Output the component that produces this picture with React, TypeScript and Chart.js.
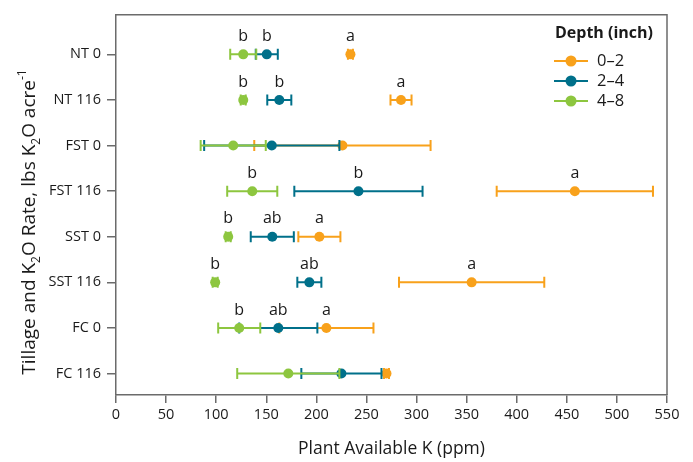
import React, { useEffect, useRef } from "react";
import { Chart, registerables } from "chart.js";

Chart.register(...registerables);

const categories = ["NT 0", "NT 116", "FST 0", "FST 116", "SST 0", "SST 116", "FC 0", "FC 116"];
const seriesNames = ["0–2", "2–4", "4–8"];
const seriesColors = ["#F8A11B", "#00708A", "#8DC63F"];

const mean02 = [234, 284.5, 226, 458, 203, 355, 210, 270];
const err02 = [2.5, 10.5, 88, 78, 21, 72.5, 47, 2.5];
const letters02 = ["a", "a", "", "a", "a", "a", "a", ""];

const mean24 = [150.5, 163, 155.5, 242, 156, 193, 162, 225];
const err24 = [11, 12, 67.5, 64, 21.5, 12, 39, 40];
const letters24 = ["b", "b", "", "b", "ab", "ab", "ab", ""];

const mean48 = [127, 127, 117, 136, 112, 99, 123, 172];
const err48 = [13, 2.5, 32.5, 25, 2.5, 2.5, 21, 51];
const letters48 = ["b", "b", "", "b", "b", "b", "b", ""];

const xMin = 0;
const xMax = 550;
const xStep = 50;

const legendTitle = "Depth (inch)";
const xTitle = "Plant Available K (ppm)";
// y title segments: [text, kind]
const yTitleParts: [string, string][] = [
  ["Tillage and K", "n"],
  ["2", "sub"],
  ["O Rate, lbs K", "n"],
  ["2", "sub"],
  ["O acre", "n"],
  ["-1", "sup"],
];

const FONT = "'Open Sans', Lato, sans-serif";
const AXIS_COLOR = "#6b6b6b";
const TEXT_COLOR = "#1a1a1a";

const seriesMeans = [mean02, mean24, mean48];
const seriesErrs = [err02, err24, err48];
const seriesLetters = [letters02, letters24, letters48];

const errorBarPlugin = {
  id: "errorBars",
  beforeDatasetDraw(chart: any, args: any) {
    const ds = chart.data.datasets[args.index];
    const xs = chart.scales.x;
    const ys = chart.scales.y;
    const ctx = chart.ctx;
    ctx.save();
    ctx.strokeStyle = ds.borderColor;
    ctx.lineWidth = 2;
    ds.errors.forEach((e: number, i: number) => {
      const p = ds.data[i];
      const x1 = xs.getPixelForValue(p.x - e);
      const x2 = xs.getPixelForValue(p.x + e);
      const y = ys.getPixelForValue(p.y);
      ctx.beginPath();
      ctx.moveTo(x1, y);
      ctx.lineTo(x2, y);
      ctx.moveTo(x1, y - 5.5);
      ctx.lineTo(x1, y + 5.5);
      ctx.moveTo(x2, y - 5.5);
      ctx.lineTo(x2, y + 5.5);
      ctx.stroke();
    });
    ctx.restore();
  },
  afterDatasetsDraw(chart: any) {
    const ctx = chart.ctx;
    const xs = chart.scales.x;
    const ys = chart.scales.y;
    ctx.save();
    ctx.fillStyle = TEXT_COLOR;
    ctx.font = `16px ${FONT}`;
    ctx.textAlign = "center";
    ctx.textBaseline = "middle";
    chart.data.datasets.forEach((ds: any) => {
      ds.letters.forEach((l: string, i: number) => {
        if (!l) return;
        const p = ds.data[i];
        ctx.fillText(l, xs.getPixelForValue(p.x), ys.getPixelForValue(p.y) - 18);
      });
    });
    ctx.restore();
  },
  afterDraw(chart: any) {
    const ctx = chart.ctx;
    const a = chart.chartArea;
    ctx.save();
    // top and right borders
    ctx.strokeStyle = AXIS_COLOR;
    ctx.lineWidth = 1.5;
    ctx.beginPath();
    ctx.moveTo(a.left, a.top);
    ctx.lineTo(a.right, a.top);
    ctx.lineTo(a.right, a.bottom);
    ctx.stroke();

    // legend
    ctx.fillStyle = TEXT_COLOR;
    ctx.textBaseline = "middle";
    ctx.textAlign = "left";
    ctx.font = `bold 16px ${FONT}`;
    ctx.fillText(legendTitle, 555, 33);
    ctx.font = `16.5px ${FONT}`;
    seriesNames.forEach((name, i) => {
      const y = 61 + i * 20;
      ctx.strokeStyle = seriesColors[i];
      ctx.lineWidth = 2;
      ctx.beginPath();
      ctx.moveTo(554, y);
      ctx.lineTo(588, y);
      ctx.stroke();
      ctx.fillStyle = seriesColors[i];
      ctx.beginPath();
      ctx.arc(571, y, 5.5, 0, Math.PI * 2);
      ctx.fill();
      ctx.fillStyle = TEXT_COLOR;
      ctx.fillText(name, 597, y);
    });

    // x title
    ctx.textAlign = "center";
    ctx.font = `17.5px ${FONT}`;
    ctx.fillText(xTitle, (a.left + a.right) / 2, 449);

    // y title with sub/superscripts
    ctx.translate(30, 222);
    ctx.rotate(-Math.PI / 2);
    const normalFont = `19px ${FONT}`;
    const smallFont = `12px ${FONT}`;
    let total = 0;
    yTitleParts.forEach(([t, k]) => {
      ctx.font = k === "n" ? normalFont : smallFont;
      total += ctx.measureText(t).width;
    });
    let x = -total / 2;
    ctx.textAlign = "left";
    yTitleParts.forEach(([t, k]) => {
      ctx.font = k === "n" ? normalFont : smallFont;
      const dy = k === "sub" ? 7 : k === "sup" ? -7 : 0;
      ctx.fillText(t, x, dy);
      x += ctx.measureText(t).width;
    });
    ctx.restore();
  },
};

export default function App() {
  const canvasRef = useRef<HTMLCanvasElement | null>(null);

  useEffect(() => {
    const canvas = canvasRef.current;
    if (!canvas) return;
    const datasets = seriesNames.map((name, s) => ({
      label: name,
      data: seriesMeans[s].map((m, i) => ({ x: m, y: i })),
      errors: seriesErrs[s],
      letters: seriesLetters[s],
      backgroundColor: seriesColors[s],
      borderColor: seriesColors[s],
      borderWidth: 0,
      pointRadius: 5,
      pointHoverRadius: 5,
      showLine: false,
      order: 3 - s,
    }));

    const chart = new Chart(canvas, {
      type: "scatter",
      data: { datasets } as any,
      options: {
        animation: false,
        responsive: false,
        devicePixelRatio: 1,
        layout: { padding: { top: 12, right: 26, left: 0, bottom: 0 } },
        plugins: { legend: { display: false }, tooltip: { enabled: false } },
        scales: {
          x: {
            type: "linear",
            min: xMin,
            max: xMax,
            ticks: { stepSize: xStep, font: { family: FONT, size: 14.5 }, color: TEXT_COLOR, padding: 3 },
            grid: { display: true, drawOnChartArea: false, tickLength: 8, color: AXIS_COLOR, lineWidth: 1.5 },
            border: { display: true, color: AXIS_COLOR, width: 1.5 },
            afterFit: (s: any) => {
              s.height = 67;
            },
          },
          y: {
            type: "linear",
            reverse: true,
            min: -0.87,
            max: 7.47,
            afterBuildTicks: (s: any) => {
              s.ticks = categories.map((_, i) => ({ value: i }));
            },
            ticks: {
              callback: (v: any) => categories[v] ?? "",
              font: { family: FONT, size: 14.5 },
              color: TEXT_COLOR,
              padding: 6,
            },
            grid: { display: true, drawOnChartArea: false, tickLength: 9, color: AXIS_COLOR, lineWidth: 1.5 },
            border: { display: true, color: AXIS_COLOR, width: 1.5 },
            afterFit: (s: any) => {
              s.width = 116;
            },
          },
        },
      } as any,
      plugins: [errorBarPlugin],
    });
    return () => chart.destroy();
  }, []);

  return (
    <div style={{ position: "absolute", left: 0, top: 0, width: 693, height: 462, background: "#fff" }}>
      <canvas ref={canvasRef} width={693} height={462} style={{ display: "block" }} />
    </div>
  );
}
